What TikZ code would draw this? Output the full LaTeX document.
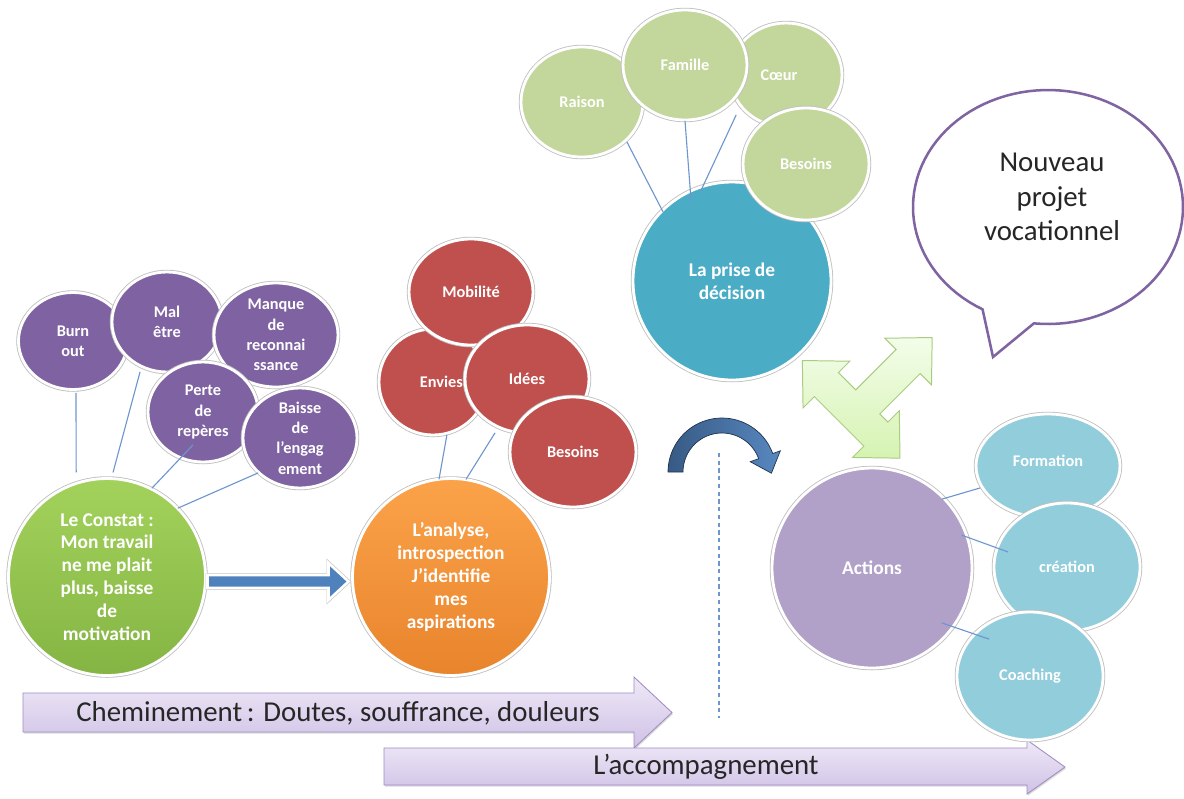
\documentclass[tikz,border=0pt]{standalone}
\usepackage{fontspec}
\setmainfont{Carlito}
\usetikzlibrary{shapes.geometric,calc,shadows}

\definecolor{purp}{HTML}{7F62A1}
\definecolor{redb}{HTML}{C0504D}
\definecolor{greenb}{HTML}{C3D69B}
\definecolor{tealb}{HTML}{4BACC6}
\definecolor{lavb}{HTML}{B1A0C7}
\definecolor{cyanb}{HTML}{92CDDC}
\definecolor{connc}{HTML}{6E96CE}
\definecolor{bubline}{HTML}{8064A2}
\definecolor{lavtop}{HTML}{EFE9F7}
\definecolor{lavbot}{HTML}{CFC1E6}
\definecolor{lavedge}{HTML}{A08CC3}
\definecolor{gartop}{HTML}{F3FDEA}
\definecolor{garbot}{HTML}{D6F3B2}
\definecolor{garedge}{HTML}{A9CC80}
\definecolor{flowc}{HTML}{4F81BD}
\definecolor{consttop}{HTML}{A3D25C}
\definecolor{constbot}{HTML}{84B443}
\definecolor{anatop}{HTML}{FBA34A}
\definecolor{anabot}{HTML}{E8842C}

\tikzset{
  bub/.style={ellipse, inner sep=0pt, outer sep=0pt, draw=white, line width=2pt,
              preaction={draw=black!25, line width=3.2pt}},
  sz/.style 2 args={minimum width=#1*0.025cm, minimum height=#2*0.025cm},
  stxt/.style={text=white, align=center, inner sep=0pt, font=\bfseries\fontsize{11.6}{14.4}\selectfont},
  btxt/.style={text=white, align=center, inner sep=0pt, font=\bfseries\fontsize{13.8}{16.3}\selectfont},
  conn/.style={draw=connc, line width=0.8pt},
  lavarrow/.style={draw=lavedge, line width=0.6pt, top color=lavtop, bottom color=lavbot,
                   drop shadow={shadow xshift=0.6pt, shadow yshift=-1.2pt, opacity=0.3}},
  arrtxt/.style={text=black!85, inner sep=0pt, font=\fontsize{20.5}{24}\selectfont},
  gar/.style={draw=garedge, line width=0.7pt, bottom color=garbot, top color=gartop},
  curvarrow/.style={draw=black!60!flowc, line width=0.5pt, left color=flowc!70!black, right color=flowc!95!white},
  flowarrow/.style={fill=flowc, draw=white, line width=1.8pt, line join=miter,
                    preaction={draw=black!22, line width=2.8pt}},
}

\begin{document}
\begin{tikzpicture}[x=0.025cm,y=-0.025cm]
\useasboundingbox (0,0) rectangle (1184,798);

% ---- bottom timeline arrows
\draw[lavarrow] (23,693) -- (634,693) -- (634,677) -- (672,712.5) -- (634,748) -- (634,732) -- (23,732) -- cycle;
\node[arrtxt] (chem) at (338,713) {Cheminement\,: Doutes, souffrance, douleurs};
\draw[lavarrow] (384,748) -- (1027,748) -- (1027,740) -- (1065,767) -- (1027,794) -- (1027,785) -- (384,785) -- cycle;
\node[arrtxt] (accomp) at (706,767) {L’accompagnement};

% ---- dashed separator
\coordinate (d1) at (719,453);
\coordinate (d2) at (719,718);
\draw[connc, line width=0.8pt, dash pattern=on 3pt off 2.5pt] (d1) -- (d2);

% ---- speech bubble
\draw[line width=1.8pt, draw=bubline, fill=white, line join=miter]
  plot[domain=264:601, samples=100] ({1048+135*cos(\x)},{207-117*sin(\x)}) -- (993,357) -- cycle;
\node[text=black!85, align=center, inner sep=0pt, font=\fontsize{20.5}{24.5}\selectfont] (projet) at (1052,197) {Nouveau\\projet\\vocationnel};

% ---- three-headed arrow between decision and actions
\begin{scope}[shift={(854,406.5)}, x={(0.017678cm,-0.017678cm)}, y={(0.017678cm,0.017678cm)}]
\draw[gar] (-69,-4) -- (-35,29) -- (-35,13) -- (-10.5,13) -- (-10.5,70) -- (-26.5,70) -- (6.5,104)
  -- (39.5,70) -- (23.5,70) -- (23.5,13) -- (35,13) -- (35,29) -- (69,-4) -- (35,-37) -- (35,-21)
  -- (-35,-21) -- (-35,-37) -- cycle;
\end{scope}

% ---- curved arrow
\draw[curvarrow] plot[domain=180:20, samples=40] ({722+54*cos(\x)},{472-54*sin(\x)})
  -- (780.3,450.8) -- (771.4,473.2) -- (750.2,461.7) -- (758.6,458.7)
  -- plot[domain=20:180, samples=40] ({722+39*cos(\x)},{472-39*sin(\x)}) -- cycle;

% ---- le constat
\node[bub, sz={109}{97}, fill=purp, label={[stxt]center:{Burn\\out}}] (burn) at (73,341) {};
\node[bub, sz={110}{100}, fill=purp, label={[stxt]center:{Mal\\être}}] (mal) at (167,322) {};
\node[bub, sz={124}{104}, fill=purp, label={[stxt]center:{Manque\\de\\reconnai\\ssance}}] (manque) at (276,335) {};
\node[bub, sz={110}{100}, fill=purp, label={[stxt]center:{Perte\\de\\repères}}] (perte) at (203,412) {};
\node[bub, sz={114}{100}, fill=purp, label={[stxt]center:{Baisse\\de\\l’engag\\ement}}] (baisse) at (300,438) {};
\node[bub, sz={197}{197}, top color=consttop, bottom color=constbot,
      label={[btxt]center:{Le Constat :\\Mon travail\\ne me plait\\plus, baisse\\de\\motivation}}] (constat) at (107,577) {};

% ---- l'analyse
\node[bub, sz={108}{106}, fill=redb, label={[stxt, xshift=6pt]center:{Envies}}] (envies) at (433,382) {};
\node[bub, sz={124}{106}, fill=redb, label={[stxt]center:{Mobilité}}] (mobil) at (471,292) {};
\node[bub, sz={124}{108}, fill=redb, label={[stxt]center:{Idées}}] (idees) at (527,379) {};
\node[bub, sz={126}{110}, fill=redb, label={[stxt]center:{Besoins}}] (besr) at (573,452) {};
\node[bub, sz={197}{197}, top color=anatop, bottom color=anabot,
      label={[btxt]center:{L’analyse,\\introspection\\J’identifie\\mes\\aspirations}}] (analyse) at (451,577) {};

% ---- block arrow from constat to analyse
\begin{scope}[shift={(constat.east)}]
\draw[flowarrow] (2,-2) -- (123,-2) -- (123,-14) -- (143,4.5) -- (123,23) -- (123,11) -- (2,11) -- cycle;
\end{scope}

% ---- la prise de décision
\node[bub, sz={198}{198}, fill=tealb, label={[btxt]center:{La prise de\\décision}}] (decision) at (732,281) {};
\node[bub, sz={122}{110}, fill=greenb, label={[stxt]center:{Raison}}] (raison) at (582,102) {};
\node[bub, sz={112}{104}, fill=greenb, label={[stxt, xshift=-5pt]center:{Cœur}}] (coeur) at (786,75) {};
\node[bub, sz={124}{110}, fill=greenb, label={[stxt]center:{Famille}}] (famille) at (685,65) {};
\node[bub, sz={126}{112}, fill=greenb, label={[stxt]center:{Besoins}}] (besg) at (806,164) {};

% ---- actions
\node[bub, sz={200}{200}, fill=lavb, label={[btxt]center:{Actions}}] (actions) at (872,568) {};
\node[bub, sz={144}{104}, fill=cyanb, label={[stxt, yshift=4pt]center:{Formation}}] (formation) at (1048,466) {};
\node[bub, sz={146}{128}, fill=cyanb, label={[stxt]center:{création}}] (creation) at (1067,567) {};
\node[bub, sz={146}{128}, fill=cyanb, label={[stxt]center:{Coaching}}] (coaching) at (1030,676) {};

% ---- connectors
\draw[conn] ([shift={(273.3:36.9pt)}]burn.center) -- ([shift={(106.4:77.6pt)}]constat.center);
\draw[conn] ([shift={(241.6:40.3pt)}]mal.center) -- ([shift={(86.7:74.5pt)}]constat.center);
\draw[conn] ([shift={(253.1:24.4pt)}]perte.center) -- ([shift={(63.2:70.7pt)}]constat.center);
\draw[conn] ([shift={(219.8:38.8pt)}]baisse.center) -- ([shift={(44.2:70.2pt)}]constat.center);

\draw[conn] ([shift={(284.8:38.8pt)}]envies.center) -- ([shift={(97:70pt)}]analyse.center);
\draw[conn] ([shift={(239.3:44.5pt)}]idees.center) -- ([shift={(81.3:70.2pt)}]analyse.center);

\draw[conn] ([shift={(318.4:42.7pt)}]raison.center) -- ([shift={(135:69.2pt)}]decision.center);
\draw[conn] ([shift={(270:39.7pt)}]famille.center) -- ([shift={(117.4:63.1pt)}]decision.center);
\draw[conn] ([shift={(218.7:45.4pt)}]coeur.center) -- ([shift={(109.8:67pt)}]decision.center);

\draw[conn] ([shift={(44.6:69.7pt)}]actions.center) -- ([shift={(197.9:50.7pt)}]formation.center);
\draw[conn] ([shift={(20.1:68pt)}]actions.center) -- ([shift={(165.7:43.2pt)}]creation.center);
\draw[conn] ([shift={(321.8:63.1pt)}]actions.center) -- ([shift={(137.9:39.1pt)}]coaching.center);
\end{tikzpicture}
\end{document}
